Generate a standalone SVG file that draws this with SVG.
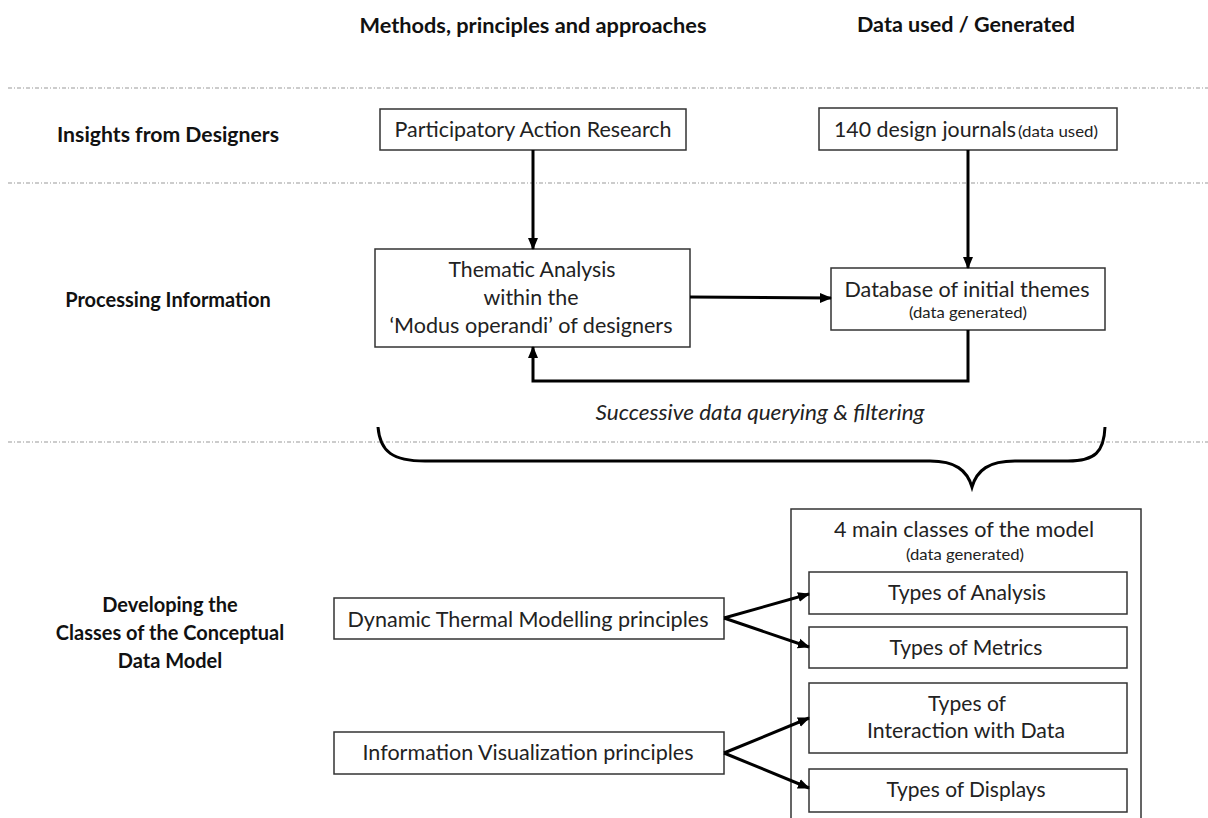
<svg xmlns="http://www.w3.org/2000/svg" width="1208" height="818" viewBox="0 0 1208 818">
<style>
.bx{fill:#fff;stroke:#333;stroke-width:1.5}
.t{font-family:Lato,"Liberation Sans",sans-serif;font-size:21px;fill:#222;text-anchor:middle}
.s{font-family:Lato,"Liberation Sans",sans-serif;font-size:15px;fill:#222;text-anchor:middle}
.h{font-family:Lato,"Liberation Sans",sans-serif;font-size:20px;font-weight:bold;fill:#111;text-anchor:middle}
.dash{stroke:#999;stroke-width:1;stroke-dasharray:4 2 1 2;fill:none}
.c{stroke:#000;stroke-width:3;fill:none}
</style>
<defs>
<marker id="ah" markerWidth="12" markerHeight="12" refX="11" refY="6" orient="auto" markerUnits="userSpaceOnUse" viewBox="0 0 12 12">
<path d="M0,1 L12,6 L0,11 z" fill="#000"/>
</marker>
</defs>
<rect width="1208" height="818" fill="#fff"/>
<g id="headers">
<text class="h" x="533" y="33" textLength="347" lengthAdjust="spacingAndGlyphs">Methods, principles and approaches</text>
<text class="h" x="966" y="32" textLength="218" lengthAdjust="spacingAndGlyphs">Data used / Generated</text>
</g>
<g id="separators">
<line class="dash" x1="8" y1="88" x2="1208" y2="88"/>
<line class="dash" x1="8" y1="183" x2="1208" y2="183"/>
<line class="dash" x1="8" y1="442" x2="1208" y2="442"/>
</g>
<g id="row-labels">
<text class="h" x="168" y="142" textLength="222" lengthAdjust="spacingAndGlyphs">Insights from Designers</text>
<text class="h" x="168" y="307">Processing Information</text>
<text class="h" x="170" y="612">Developing the</text>
<text class="h" x="170" y="640">Classes of the Conceptual</text>
<text class="h" x="170" y="668">Data Model</text>
</g>
<g id="n-par">
<rect class="bx" x="380" y="109" width="306" height="41"/>
<text class="t" x="533" y="137" textLength="277" lengthAdjust="spacingAndGlyphs">Participatory Action Research</text>
</g>
<g id="n-journals">
<rect class="bx" x="819" y="108" width="298" height="42"/>
<text class="t" x="834" y="137" style="text-anchor:start"><tspan textLength="182" lengthAdjust="spacingAndGlyphs">140 design journals</tspan><tspan x="1018" font-size="15px" textLength="80" lengthAdjust="spacingAndGlyphs">(data used)</tspan></text>
</g>
<g id="n-thematic">
<rect class="bx" x="375" y="249" width="315" height="98"/>
<text class="t" x="532" y="277" textLength="167" lengthAdjust="spacingAndGlyphs">Thematic Analysis</text>
<text class="t" x="531" y="305" textLength="95" lengthAdjust="spacingAndGlyphs">within the</text>
<text class="t" x="531" y="333" textLength="283" lengthAdjust="spacingAndGlyphs">‘Modus operandi’ of designers</text>
</g>
<g id="n-database">
<rect class="bx" x="831" y="268" width="274" height="62"/>
<text class="t" x="967" y="297" textLength="245" lengthAdjust="spacingAndGlyphs">Database of initial themes</text>
<text class="s" x="968" y="318" textLength="118" lengthAdjust="spacingAndGlyphs">(data generated)</text>
</g>
<g id="label-successive">
<text class="t" x="760" y="420" font-style="italic" textLength="329" lengthAdjust="spacingAndGlyphs">Successive data querying &amp; filtering</text>
</g>
<g id="n-classes">
<rect class="bx" x="791" y="509" width="350" height="330"/>
<text class="t" x="964" y="537" textLength="260" lengthAdjust="spacingAndGlyphs">4 main classes of the model</text>
<text class="s" x="965" y="560" textLength="118" lengthAdjust="spacingAndGlyphs">(data generated)</text>
</g>
<g id="n-analysis">
<rect class="bx" x="809" y="572" width="318" height="42"/>
<text class="t" x="967" y="600" textLength="158" lengthAdjust="spacingAndGlyphs">Types of Analysis</text>
</g>
<g id="n-metrics">
<rect class="bx" x="809" y="627" width="318" height="41"/>
<text class="t" x="966" y="655" textLength="153" lengthAdjust="spacingAndGlyphs">Types of Metrics</text>
</g>
<g id="n-interaction">
<rect class="bx" x="809" y="683" width="318" height="70"/>
<text class="t" x="967" y="711" textLength="78" lengthAdjust="spacingAndGlyphs">Types of</text>
<text class="t" x="966" y="738" textLength="198" lengthAdjust="spacingAndGlyphs">Interaction with Data</text>
</g>
<g id="n-displays">
<rect class="bx" x="809" y="769" width="318" height="43"/>
<text class="t" x="966" y="797" textLength="159" lengthAdjust="spacingAndGlyphs">Types of Displays</text>
</g>
<g id="n-dtm">
<rect class="bx" x="334" y="598" width="390" height="41"/>
<text class="t" x="528" y="627" textLength="361" lengthAdjust="spacingAndGlyphs">Dynamic Thermal Modelling principles</text>
</g>
<g id="n-infovis">
<rect class="bx" x="334" y="732" width="390" height="42"/>
<text class="t" x="528" y="760" textLength="331" lengthAdjust="spacingAndGlyphs">Information Visualization principles</text>
</g>
<g id="connectors">
<line class="c" x1="533" y1="150" x2="533" y2="249" marker-end="url(#ah)"/>
<line class="c" x1="968" y1="150" x2="968" y2="268" marker-end="url(#ah)"/>
<line class="c" x1="690" y1="297" x2="831" y2="298" marker-end="url(#ah)"/>
<polyline class="c" points="968,330 968,381 533,381 533,347" marker-end="url(#ah)"/>
<line class="c" x1="724" y1="618" x2="809" y2="594" marker-end="url(#ah)"/>
<line class="c" x1="724" y1="618" x2="809" y2="647" marker-end="url(#ah)"/>
<line class="c" x1="724" y1="753" x2="809" y2="718" marker-end="url(#ah)"/>
<line class="c" x1="724" y1="753" x2="809" y2="788" marker-end="url(#ah)"/>
<path class="c" d="M378,427 C380,452 393,461 425,461 L930,461 C955,461 967,470 972,487 C977,470 989,461 1015,461 L1068,461 C1095,461 1104,452 1105,427"/>
</g>
</svg>
